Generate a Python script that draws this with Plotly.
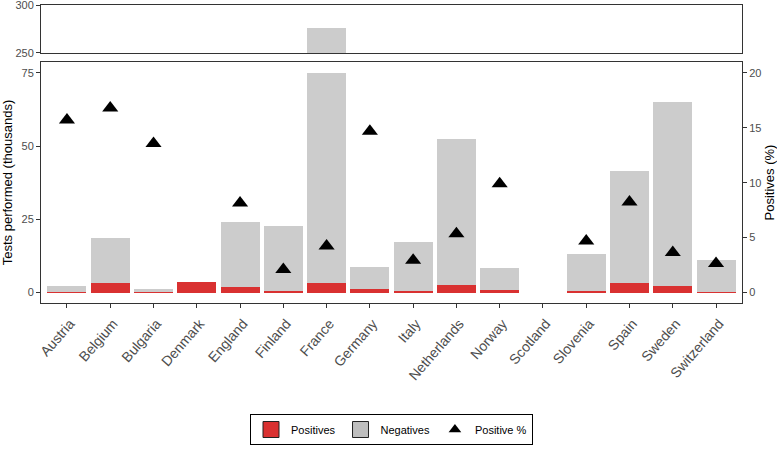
import plotly.graph_objects as go
import numpy as np

countries = ["Austria", "Belgium", "Bulgaria", "Denmark", "England", "Finland", "France",
             "Germany", "Italy", "Netherlands", "Norway", "Scotland", "Slovenia", "Spain",
             "Sweden", "Switzerland"]
# thousands of tests
positives = [0.35, 3.2, 0.2, 3.6, 2.0, 0.55, 3.2, 1.25, 0.5, 2.7, 0.9, 0.0, 0.55, 3.4, 2.25, 0.15]
negatives = [1.9, 15.55, 0.9, 0.0, 22.1, 22.05, 272.8, 7.65, 16.65, 49.6, 7.4, 0.0, 12.5, 37.95, 62.65, 11.1]
positive_pct = [15.7, 16.8, 13.55, None, 8.15, 2.1, 4.24, 14.67, 2.94, 5.36, 9.9, None, 4.7, 8.24, 3.64, 2.64]

BREAK_LOW = 75
RED = "#D93131"
GREY = "#CCCCCC"
AX = "#333333"
TXT = "#4D4D4D"
FONT = "Liberation Sans, Arial, sans-serif"

pos = np.array(positives)
tot = pos + np.array(negatives)
grey_low = np.minimum(tot, BREAK_LOW) - pos

fig = go.Figure()
fig.add_trace(go.Bar(x=countries, y=pos, marker=dict(color=RED, line=dict(width=0)),
                     width=0.9, showlegend=False, xaxis="x", yaxis="y"))
fig.add_trace(go.Bar(x=countries, y=grey_low, marker=dict(color=GREY, line=dict(width=0)),
                     width=0.9, showlegend=False, xaxis="x", yaxis="y"))
fig.add_trace(go.Bar(x=countries, y=tot, marker=dict(color=GREY, line=dict(width=0)),
                     width=0.9, showlegend=False, xaxis="x2", yaxis="y3"))
fig.add_trace(go.Scatter(x=countries, y=positive_pct, mode="markers",
                         marker=dict(symbol="triangle-up", size=14, color="black"),
                         showlegend=False, xaxis="x", yaxis="y2"))
# legend entries
fig.add_trace(go.Scatter(x=[None], y=[None], mode="markers", name="Positives",
                         marker=dict(symbol="square", size=18, color=RED, line=dict(color="#222", width=1))))
fig.add_trace(go.Scatter(x=[None], y=[None], mode="markers", name="Negatives",
                         marker=dict(symbol="square", size=18, color="#BEBEBE", line=dict(color="#222", width=1))))
fig.add_trace(go.Scatter(x=[None], y=[None], mode="markers", name="Positive %",
                         marker=dict(symbol="triangle-up", size=11, color="black")))

W, H = 777, 451
ml, mr, mt, mb = 41, 35, 5, 148
ph = H - mt - mb

def py(px):
    return (H - mb - px) / ph

fig.update_layout(
    width=W, height=H, margin=dict(l=ml, r=mr, t=mt, b=mb, autoexpand=False),
    paper_bgcolor="white", plot_bgcolor="white",
    barmode="stack", bargap=0.1,
    font=dict(family=FONT, color=TXT, size=11),
    xaxis=dict(domain=[0, 1], anchor="y", showline=True, linecolor=AX, mirror=True,
               ticks="outside", ticklen=4, tickcolor=AX, tickangle=-49, automargin=False,
               tickfont=dict(size=14, color=TXT), range=[-0.6, 15.6],
               ticklabelshift=3, ticklabelstandoff=2),
    xaxis2=dict(domain=[0, 1], anchor="y3", matches="x", showticklabels=False,
                showline=True, linecolor=AX, mirror=True, ticks="", automargin=False),
    yaxis=dict(domain=[0, py(62)], range=[-3.55, 78.65], tickvals=[0, 25, 50, 75],
               showline=True, linecolor=AX, mirror=True, ticks="outside", ticklen=4,
               tickcolor=AX, showgrid=False, zeroline=False, automargin=False, color=TXT,
               title=dict(text="Tests performed (thousands)", font=dict(size=13, color="black"), standoff=6),
               tickfont=dict(size=11, color=TXT)),
    yaxis2=dict(overlaying="y", side="right", anchor="x", range=[-3.55 / 3.75, 78.65 / 3.75],
                tickvals=[0, 5, 10, 15, 20], ticks="outside", ticklen=4, tickcolor=AX,
                showgrid=False, zeroline=False, showline=False, automargin=False, color=TXT,
                title=dict(text="Positives (%)", font=dict(size=13, color="black"), standoff=4),
                tickfont=dict(size=11, color=TXT)),
    yaxis3=dict(domain=[py(53), 1], range=[249.95, 300.05], tickvals=[250, 300], anchor="x2",
                showline=True, linecolor=AX, mirror=True, ticks="outside", ticklen=4,
                tickcolor=AX, showgrid=False, zeroline=False, automargin=False, color=TXT,
                ticklabeloverflow="allow", tickfont=dict(size=11, color=TXT)),
    legend=dict(orientation="h", x=0.5, xanchor="center", y=py(414), yanchor="top",
                bordercolor="black", borderwidth=1, font=dict(size=11, color="black"),
                traceorder="normal", itemwidth=30),
)

fig.write_html("out.html", config={"displayModeBar": False},
               post_script="document.body.style.margin='0';document.body.style.overflow='hidden';")
